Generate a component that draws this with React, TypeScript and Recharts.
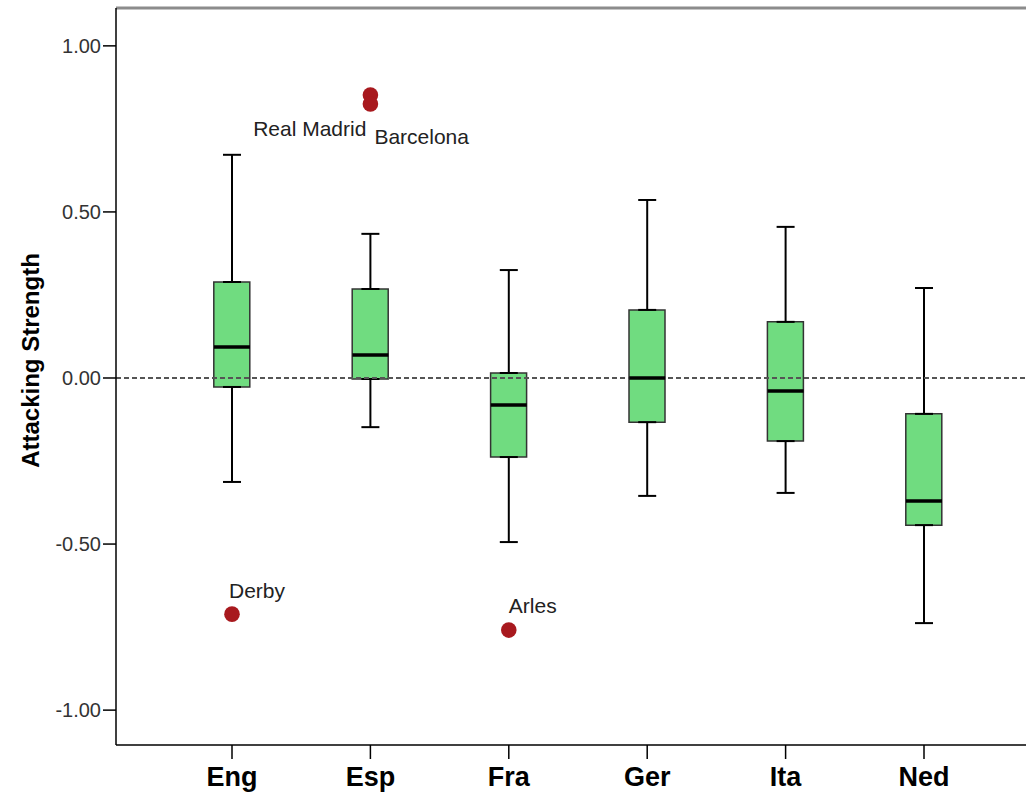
import React from 'react';
import { ComposedChart, XAxis, YAxis, Bar, Scatter, ErrorBar, ReferenceLine, Label } from 'recharts';

const categories = ['Eng', 'Esp', 'Fra', 'Ger', 'Ita', 'Ned'];
const whiskerLow = [-0.313, -0.148, -0.494, -0.355, -0.346, -0.738];
const quartile1 = [-0.027, -0.003, -0.238, -0.133, -0.19, -0.443];
const medians = [0.093, 0.069, -0.081, 0.0, -0.039, -0.37];
const quartile3 = [0.289, 0.268, 0.015, 0.205, 0.169, -0.108];
const whiskerHigh = [0.672, 0.434, 0.325, 0.536, 0.455, 0.271];

const outlierNames = ['Real Madrid', 'Barcelona', 'Derby', 'Arles'];
const outlierCats = ['Esp', 'Esp', 'Eng', 'Fra'];
const outlierValues = [0.852, 0.825, -0.711, -0.759];

const yTicks = [-1, -0.5, 0, 0.5, 1];
const yDomain = [-1.105, 1.114];

const rows = categories.map((cat, i) => ({
  cat,
  min: whiskerLow[i],
  q1: quartile1[i],
  median: medians[i],
  q3: quartile3[i],
  max: whiskerHigh[i],
}));

const outliers = outlierNames.map((name, i) => ({
  name,
  cat: outlierCats[i],
  value: outlierValues[i],
}));

const FONT = '"Liberation Sans", Arial, sans-serif';

const labelPlacement: Record<string, { dx: number; dy: number; anchor: string }> = {
  'Real Madrid': { dx: -4, dy: 41, anchor: 'end' },
  Barcelona: { dx: 4, dy: 40, anchor: 'start' },
  Derby: { dx: -3, dy: -16, anchor: 'start' },
  Arles: { dx: 0, dy: -17, anchor: 'start' },
};

const EmptyShape = () => <g />;

const MedianShape = (props: any) => {
  const { cx, cy } = props;
  if (cx == null || cy == null) return <g />;
  return <line x1={cx - 18} x2={cx + 18} y1={cy} y2={cy} stroke="#000" strokeWidth={3.5} />;
};

const OutlierShape = (props: any) => {
  const { cx, cy, payload } = props;
  if (cx == null || cy == null) return <g />;
  const p = labelPlacement[payload.name] || { dx: 0, dy: -12, anchor: 'start' };
  return (
    <g>
      <circle cx={cx} cy={cy} r={7.8} fill="#A8191E" />
      <text
        x={cx + p.dx}
        y={cy + p.dy}
        textAnchor={p.anchor as any}
        fontFamily={FONT}
        fontSize={21}
        fill="#222"
      >
        {payload.name}
      </text>
    </g>
  );
};

const YTitle = (props: any) => {
  const vb = props.viewBox || { x: 0, y: 8, width: 116, height: 737 };
  const x = 39;
  const y = vb.y + vb.height / 2 - 16;
  return (
    <text
      x={x}
      y={y}
      transform={`rotate(-90, ${x}, ${y})`}
      textAnchor="middle"
      fontFamily={FONT}
      fontWeight="bold"
      fontSize={24}
      fill="#000"
    >
      Attacking Strength
    </text>
  );
};

export default function App() {
  return (
    <div style={{ position: 'absolute', left: 0, top: 0, width: 1026, height: 794, overflow: 'hidden', background: '#fff' }}>
      <ComposedChart
        width={1040}
        height={794}
        data={rows}
        margin={{ top: 8, right: 0, bottom: 0, left: 0 }}
      >
        <XAxis
          dataKey="cat"
          type="category"
          allowDuplicatedCategory={false}
          height={49}
          padding={{ left: 46.8, right: 46.8 }}
          interval={0}
          tickSize={14}
          tickMargin={8}
          tick={{ fontSize: 27, fontWeight: 'bold', fill: '#000', fontFamily: FONT }}
          axisLine={{ stroke: '#000', strokeWidth: 1.5 }}
          tickLine={{ stroke: '#000', strokeWidth: 1.5 }}
        />
        <YAxis
          type="number"
          width={116}
          domain={yDomain}
          allowDataOverflow
          ticks={yTicks}
          interval={0}
          tickFormatter={(v: number) => v.toFixed(2)}
          tickSize={13}
          tickMargin={2}
          tick={{ fontSize: 20, fill: '#333', fontFamily: FONT }}
          axisLine={{ stroke: '#000', strokeWidth: 1.5 }}
          tickLine={{ stroke: '#000', strokeWidth: 1.5 }}
        >
          <Label content={<YTitle />} />
        </YAxis>
        <ReferenceLine y={yDomain[1]} stroke="#8c8c8c" strokeWidth={3} ifOverflow="visible" />
        <Scatter dataKey="q3" shape={<EmptyShape />} isAnimationActive={false}>
          <ErrorBar
            dataKey={(d: any) => [0, d.max - d.q3]}
            direction="y"
            width={9}
            stroke="#000"
            strokeWidth={2}
            isAnimationActive={false}
          />
        </Scatter>
        <Scatter dataKey="q1" shape={<EmptyShape />} isAnimationActive={false}>
          <ErrorBar
            dataKey={(d: any) => [d.q1 - d.min, 0]}
            direction="y"
            width={9}
            stroke="#000"
            strokeWidth={2}
            isAnimationActive={false}
          />
        </Scatter>
        <Bar
          dataKey={(d: any) => [d.q1, d.q3]}
          barSize={36}
          fill="#70DC80"
          stroke="#333"
          strokeWidth={1.5}
          isAnimationActive={false}
        />
        <ReferenceLine y={0} stroke="#555" strokeDasharray="5 3" strokeWidth={2} />
        <Scatter dataKey="median" shape={<MedianShape />} isAnimationActive={false} />
        <Scatter data={outliers} dataKey="value" shape={<OutlierShape />} isAnimationActive={false} />
      </ComposedChart>
    </div>
  );
}
